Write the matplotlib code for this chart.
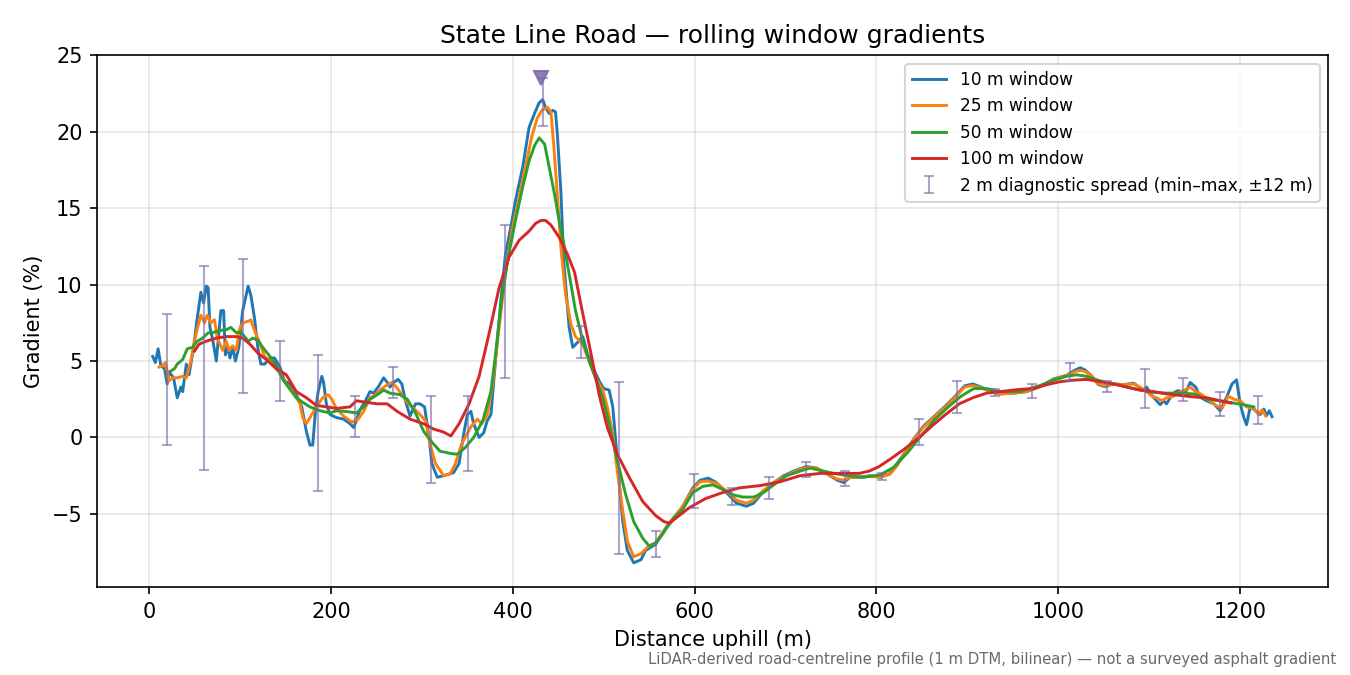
import numpy as np
import matplotlib
matplotlib.use("Agg")
import matplotlib.pyplot as plt

# 10 m window
w10_x = [4, 7, 10, 13, 17, 20, 22, 27, 31, 35, 37, 41, 44, 46, 49, 53, 57, 60, 63, 65,
         67, 70, 74, 77, 79, 82, 84, 87, 89, 92, 95, 98, 99, 103, 109, 112, 116, 120, 123, 127,
         133, 138, 144, 149, 155, 162, 168, 173, 177, 180, 183, 186, 190, 192, 195, 199, 206, 214, 221, 225,
         228, 232, 238, 243, 247, 252, 258, 262, 265, 269, 274, 278, 282, 287, 293, 298, 303, 308, 311, 317,
         324, 335, 341, 346, 350, 354, 357, 363, 368, 372, 376, 381, 387, 392, 398, 403, 411, 418, 424, 429,
         433, 436, 440, 444, 447, 449, 453, 456, 462, 466, 471, 477, 482, 488, 495, 500, 506, 510, 515, 521,
         526, 533, 541, 546, 557, 568, 576, 587, 598, 606, 615, 624, 635, 646, 657, 665, 676, 687, 698, 709,
         723, 734, 746, 757, 764, 771, 782, 793, 804, 814, 821, 830, 841, 852, 863, 874, 886, 897, 906, 915,
         925, 936, 951, 965, 980, 995, 1009, 1018, 1024, 1029, 1037, 1044, 1051, 1061, 1072, 1083, 1088, 1094, 1097, 1103,
         1108, 1112, 1116, 1119, 1123, 1128, 1132, 1136, 1141, 1145, 1151, 1156, 1163, 1171, 1178, 1185, 1191, 1196, 1200, 1204,
         1207, 1211, 1217, 1222, 1226, 1229, 1232, 1235]
w10_y = [5.3, 4.9, 5.8, 4.7, 4.5, 3.5, 4.3, 3.9, 2.6, 3.3, 3.0, 4.8, 4.1, 4.8, 5.9, 7.8, 9.5, 8.8, 9.9, 9.8,
         7.2, 6.4, 5.0, 7.0, 8.3, 8.3, 5.4, 5.9, 5.2, 5.9, 5.0, 5.7, 6.0, 8.3, 9.9, 9.3, 7.8, 5.7, 4.8, 4.8,
         5.2, 5.2, 4.6, 3.7, 3.5, 2.8, 2.0, 0.4, -0.5, -0.5, 1.7, 3.0, 4.0, 3.6, 2.2, 1.5, 1.3, 1.2, 0.9, 0.65,
         1.1, 1.8, 2.4, 3.0, 2.9, 3.3, 3.9, 3.6, 3.3, 3.6, 3.8, 3.5, 2.4, 1.4, 2.2, 2.2, 2.0, 0.0, -1.7, -2.6,
         -2.5, -2.3, -1.7, 0.2, 1.5, 1.7, 0.9, 0.0, 0.3, 1.1, 1.5, 5.0, 9.0, 12.0, 13.8, 15.5, 17.7, 20.3, 21.2, 21.9,
         22.1, 21.6, 21.2, 21.4, 21.3, 19.9, 16.0, 11.6, 7.2, 5.9, 6.2, 6.6, 5.5, 4.6, 3.7, 3.2, 3.1, 2.0, -1.5, -5.5,
         -7.4, -8.2, -8.0, -7.4, -7.0, -6.0, -5.4, -4.5, -3.3, -2.8, -2.66, -2.95, -3.6, -4.3, -4.5, -4.3, -3.5, -2.95, -2.5, -2.2,
         -1.9, -2.0, -2.4, -2.8, -2.95, -2.6, -2.6, -2.5, -2.6, -2.4, -1.85, -1.1, -0.1, 0.76, 1.35, 1.96, 2.66, 3.38, 3.5, 3.3,
         3.0, 2.85, 2.9, 3.0, 3.33, 3.84, 4.06, 4.4, 4.56, 4.43, 4.0, 3.46, 3.33, 3.5, 3.46, 3.55, 3.33, 3.07, 3.3, 2.74,
         2.4, 2.15, 2.4, 2.2, 2.6, 2.96, 3.07, 2.96, 3.07, 3.6, 3.3, 2.63, 2.4, 2.2, 1.75, 2.63, 3.5, 3.77, 2.2, 1.3,
         0.83, 2.0, 1.75, 1.5, 1.86, 1.43, 1.75, 1.36]

# 25 m window
w25_x = [11, 15, 18, 22, 26, 31, 37, 41, 46, 50, 53, 57, 61, 64, 68, 72, 75, 81, 85, 88,
         92, 96, 99, 103, 109, 112, 116, 121, 127, 133, 138, 144, 151, 158, 166, 169, 173, 179, 184, 191,
         197, 201, 206, 214, 223, 230, 236, 243, 249, 256, 261, 267, 272, 278, 284, 291, 298, 304, 309, 315,
         324, 331, 337, 344, 354, 361, 366, 372, 378, 385, 392, 399, 407, 414, 421, 427, 432, 438, 442, 445,
         449, 453, 458, 464, 469, 477, 484, 491, 499, 504, 510, 515, 521, 526, 533, 541, 548, 557, 566, 576,
         587, 598, 606, 614, 624, 635, 646, 657, 665, 675, 687, 697, 709, 723, 734, 745, 756, 764, 772, 782,
         793, 804, 815, 822, 830, 841, 852, 863, 874, 886, 897, 906, 915, 925, 936, 951, 965, 980, 995, 1009,
         1018, 1024, 1030, 1037, 1044, 1051, 1061, 1072, 1083, 1088, 1094, 1097, 1103, 1108, 1114, 1119, 1127, 1134, 1139, 1145,
         1151, 1158, 1165, 1173, 1180, 1187, 1193, 1200, 1207, 1215, 1220, 1224, 1228]
w25_y = [4.6, 4.7, 4.9, 3.7, 3.9, 3.9, 4.0, 3.9, 5.0, 6.3, 7.1, 8.0, 7.5, 8.0, 7.5, 7.7, 6.5, 5.7, 6.3, 5.7,
         6.0, 5.7, 7.0, 7.5, 7.6, 7.7, 7.0, 6.3, 5.3, 5.0, 4.6, 4.2, 3.5, 3.0, 2.2, 1.3, 0.9, 1.5, 2.0, 2.6,
         2.8, 2.5, 1.9, 1.4, 1.0, 1.2, 1.7, 2.6, 2.8, 3.2, 3.4, 3.6, 3.3, 2.8, 2.3, 1.9, 1.5, 1.1, -0.4, -1.7,
         -2.5, -2.4, -1.7, -0.4, 0.7, 1.2, 0.9, 1.5, 3.5, 7.2, 10.7, 13.5, 15.7, 17.7, 19.7, 20.9, 21.4, 21.6, 21.3, 19.2,
         15.9, 12.4, 9.4, 7.4, 6.6, 6.1, 5.0, 3.9, 3.1, 2.0, 0.2, -2.2, -4.8, -6.8, -7.8, -7.6, -7.2, -6.9, -6.1, -5.3,
         -4.5, -3.4, -2.9, -2.85, -3.0, -3.5, -4.1, -4.3, -4.1, -3.5, -2.95, -2.6, -2.25, -1.95, -2.0, -2.35, -2.7, -2.8, -2.6, -2.6,
         -2.55, -2.6, -2.4, -1.9, -1.15, -0.15, 0.7, 1.3, 1.9, 2.6, 3.3, 3.4, 3.25, 3.0, 2.85, 2.9, 3.0, 3.35, 3.8, 4.05,
         4.3, 4.4, 4.3, 4.0, 3.5, 3.4, 3.5, 3.45, 3.5, 3.35, 3.15, 3.0, 2.7, 2.6, 2.4, 2.6, 2.7, 3.0, 3.1, 3.3,
         3.0, 2.8, 2.45, 2.1, 1.9, 2.7, 2.5, 2.4, 2.0, 1.9, 1.5, 1.8, 1.4]

# 50 m window
w50_x = [24, 28, 31, 37, 42, 48, 53, 59, 65, 70, 77, 85, 90, 96, 101, 109, 114, 120, 125, 133,
         140, 147, 155, 162, 169, 177, 188, 199, 206, 217, 228, 236, 243, 251, 258, 265, 276, 284, 293, 302,
         311, 320, 332, 339, 348, 357, 367, 376, 381, 388, 395, 403, 411, 418, 424, 429, 435, 440, 446, 451,
         456, 462, 469, 477, 484, 491, 499, 506, 515, 524, 533, 543, 550, 557, 565, 570, 578, 587, 598, 609,
         620, 631, 642, 653, 665, 676, 687, 701, 716, 727, 738, 753, 768, 786, 804, 819, 834, 849, 863, 878,
         893, 907, 921, 936, 958, 980, 995, 1009, 1020, 1031, 1046, 1061, 1075, 1090, 1105, 1119, 1134, 1149, 1163, 1178,
         1193, 1207, 1215]
w50_y = [4.35, 4.5, 4.8, 5.1, 5.8, 5.9, 6.3, 6.5, 6.85, 6.85, 7.0, 7.05, 7.2, 6.85, 6.9, 6.3, 6.5, 6.35, 5.9, 5.3,
         4.7, 3.8, 3.15, 2.6, 2.3, 2.0, 1.75, 1.6, 1.75, 1.7, 1.6, 2.0, 2.5, 2.8, 3.1, 2.9, 2.8, 2.5, 1.6, 0.4,
         -0.3, -0.9, -1.05, -1.1, -0.65, 0.0, 1.1, 3.0, 5.4, 9.2, 11.8, 14.2, 16.4, 18.1, 19.1, 19.6, 19.2, 17.7, 15.9, 14.2,
         12.7, 10.7, 8.3, 6.3, 5.0, 3.9, 2.6, 0.9, -1.5, -3.7, -5.5, -6.6, -7.1, -6.9, -6.3, -5.8, -5.2, -4.7, -3.6, -3.2,
         -3.1, -3.4, -3.75, -3.9, -3.9, -3.6, -3.1, -2.5, -2.2, -2.0, -2.15, -2.35, -2.5, -2.6, -2.45, -1.95, -1.0, 0.1, 1.1, 1.95,
         2.7, 3.2, 3.2, 3.0, 3.0, 3.4, 3.75, 4.0, 4.1, 4.0, 3.7, 3.5, 3.3, 3.1, 2.95, 2.9, 2.9, 2.85, 2.5, 2.4,
         2.25, 2.1, 2.0]

# 100 m window
w100_x = [50, 55, 63, 74, 85, 96, 103, 111, 120, 129, 140, 151, 162, 173, 184, 195, 206, 221, 228, 239,
          251, 262, 273, 287, 302, 313, 324, 332, 341, 352, 363, 374, 385, 396, 407, 418, 425, 431, 436, 442,
          451, 460, 468, 477, 486, 495, 504, 515, 528, 543, 557, 566, 572, 579, 594, 612, 631, 649, 672, 694,
          716, 738, 760, 781, 792, 803, 818, 832, 847, 862, 876, 891, 906, 921, 936, 958, 973, 987, 1002, 1017,
          1031, 1046, 1061, 1075, 1090, 1105, 1119, 1134, 1149, 1163, 1178, 1190]
w100_y = [5.65, 6.1, 6.3, 6.5, 6.6, 6.6, 6.5, 6.1, 5.5, 5.1, 4.5, 4.1, 3.0, 2.6, 2.1, 2.0, 1.9, 2.0, 2.4, 2.3,
          2.2, 2.2, 1.7, 1.2, 0.9, 0.55, 0.35, 0.1, 0.9, 2.2, 4.0, 6.8, 9.8, 11.8, 12.9, 13.5, 14.0, 14.2, 14.2, 13.9,
          13.1, 12.0, 10.8, 8.1, 5.5, 2.8, 0.65, -1.1, -2.6, -4.2, -5.1, -5.5, -5.6, -5.3, -4.6, -4.0, -3.6, -3.3, -3.15, -2.9,
          -2.5, -2.35, -2.35, -2.35, -2.2, -1.9, -1.3, -0.7, 0.0, 0.8, 1.5, 2.2, 2.6, 2.9, 3.0, 3.15, 3.2, 3.45, 3.65, 3.75,
          3.8, 3.65, 3.5, 3.3, 3.1, 3.0, 2.85, 2.75, 2.65, 2.6, 2.4, 2.25]

# 2 m diagnostic spread (min / max within +-12 m)
spread_x = [20, 61, 103, 144, 186, 227, 268, 310, 351, 392, 433, 475, 517, 558, 599,
            641, 682, 723, 765, 806, 847, 889, 930, 971, 1013, 1054, 1095, 1137, 1178, 1220]
spread_lo = [-0.5, -2.1, 2.9, 2.4, -3.5, 0.0, 2.6, -3.0, -2.2, 3.9, 20.4, 5.2, -7.6, -7.8, -4.6,
             -4.4, -4.0, -2.6, -3.2, -2.8, -0.5, 1.6, 2.7, 2.6, 3.7, 3.0, 1.9, 2.4, 1.4, 0.9]
spread_hi = [8.1, 11.2, 11.7, 6.3, 5.4, 2.7, 4.6, 2.7, 2.7, 13.9, 23.5, 7.3, 3.6, -6.1, -2.4,
             -3.3, -2.6, -1.6, -2.2, -2.3, 1.2, 3.7, 3.2, 3.5, 4.9, 3.7, 4.5, 3.9, 3.0, 2.7]
peak_x = 431
peak_y = 23.5

fig, ax = plt.subplots(figsize=(9, 4.5), dpi=150)

ax.plot(w10_x, w10_y, color='#1f77b4', lw=1.4, label='10 m window')
ax.plot(w25_x, w25_y, color='#ff7f0e', lw=1.4, label='25 m window')
ax.plot(w50_x, w50_y, color='#2ca02c', lw=1.4, label='50 m window')
ax.plot(w100_x, w100_y, color='#d62728', lw=1.4, label='100 m window')

lo = np.array(spread_lo)
hi = np.array(spread_hi)
mid = (lo + hi) / 2
ax.errorbar(spread_x, mid, yerr=(hi - lo) / 2, fmt='none', ecolor='#7b68a6',
            alpha=0.6, elinewidth=1.0, capsize=2.5,
            label='2 m diagnostic spread (min\u2013max, \u00b112 m)')
ax.plot([peak_x], [peak_y], marker='v', color='#7b68a6', alpha=0.85, markersize=7, ls='none')

ax.set_xlim(-57, 1297)
ax.set_ylim(-9.8, 25)
ax.set_xlabel('Distance uphill (m)')
ax.set_ylabel('Gradient (%)')
ax.set_title('State Line Road \u2014 rolling window gradients')
ax.grid(True, color='#b0b0b0', alpha=0.3, lw=0.8)
ax.legend(loc='upper right', fontsize=8.2)

fig.text(0.99, 0.012, 'LiDAR-derived road-centreline profile (1 m DTM, bilinear) \u2014 not a surveyed asphalt gradient',
         ha='right', va='bottom', fontsize=7.15, color='dimgray')

fig.subplots_adjust(left=0.072, right=0.984, top=0.918, bottom=0.13)
fig.savefig('out.png', dpi=150)
